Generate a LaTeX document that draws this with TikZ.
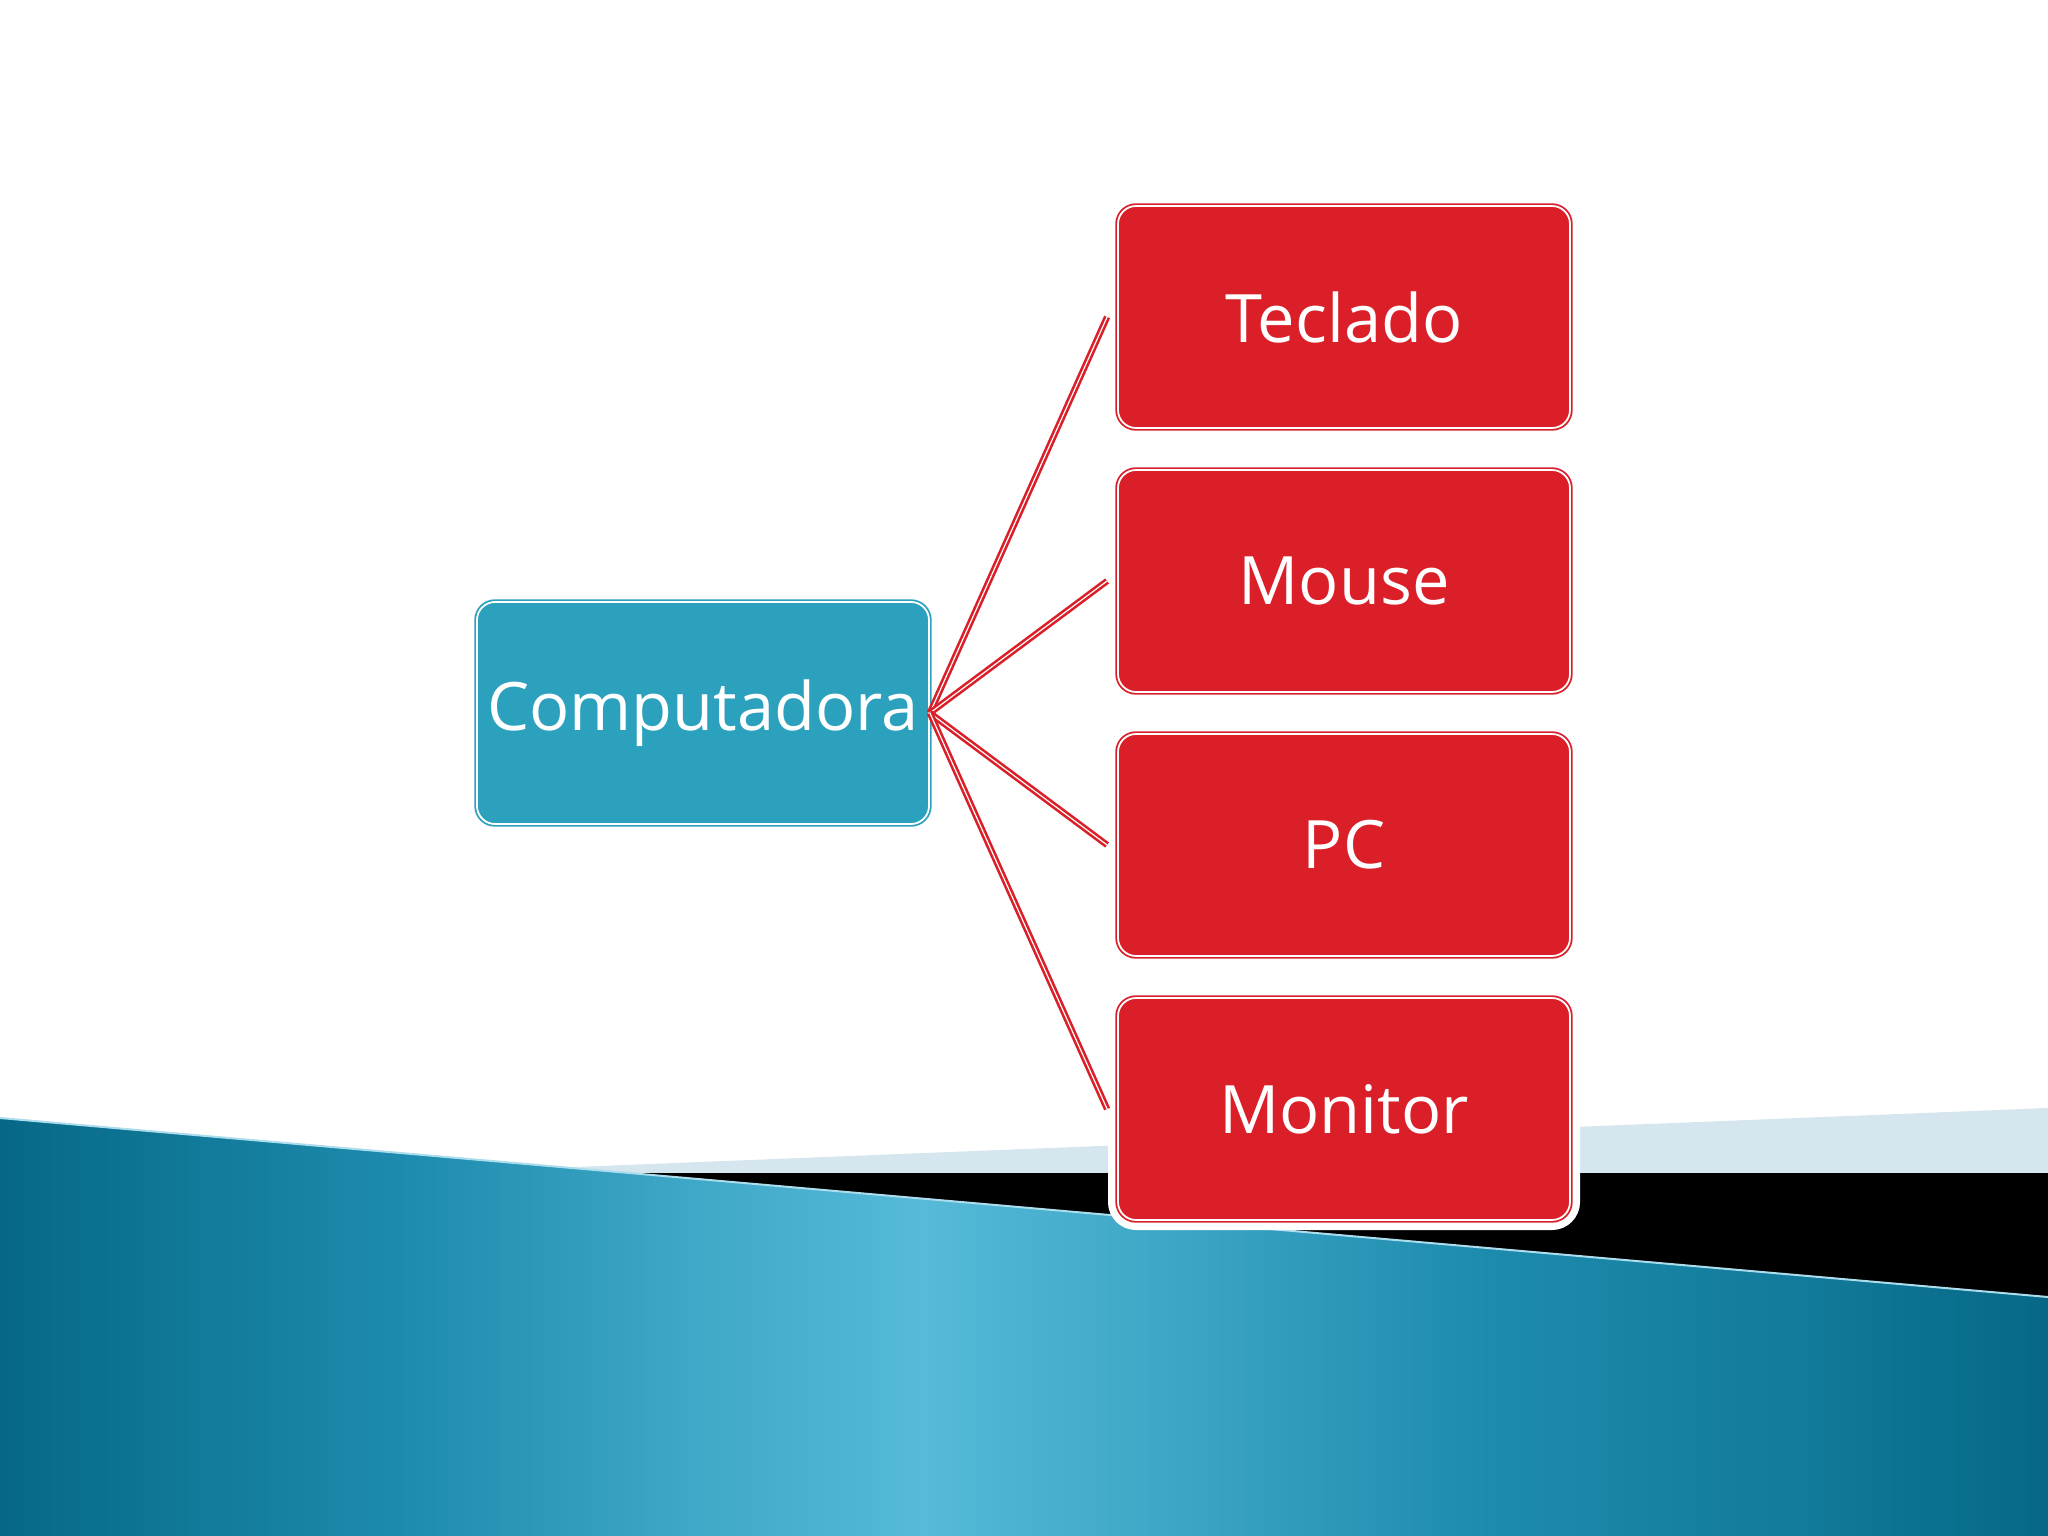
\documentclass[tikz,border=0pt]{standalone}
\usepackage{fontspec}
\setmainfont{Open Sans}
\usepackage{tikz}
\usepackage{xcolor}
\definecolor{boxred}{RGB}{218,31,40}
\definecolor{boxblue}{RGB}{44,161,190}
\definecolor{seadark}{RGB}{6,104,134}
\definecolor{seamid}{RGB}{30,140,175}
\definecolor{sealight}{RGB}{86,186,216}
\definecolor{bandgray}{RGB}{214,230,238}
\pgfdeclarehorizontalshading{sea}{100bp}{color(0bp)=(seadark); color(25bp)=(seadark); color(35bp)=(seamid);
  color(42bp)=(sealight!60!seamid); color(47.5bp)=(sealight); color(53bp)=(sealight!60!seamid);
  color(61bp)=(seamid); color(69bp)=(seamid!50!seadark); color(75bp)=(seadark); color(100bp)=(seadark)}
\tikzset{item/.style={rounded corners=0.18cm,minimum width=4.52cm,minimum height=2.22cm,inner sep=0pt,
   text=white,font=\fontsize{19}{23}\selectfont,line width=0.018cm,double distance=0.018cm,
   preaction={draw=white,line width=0.2cm}},
 part/.style={item,draw=boxred,double=white,fill=boxred},
 whole/.style={item,draw=boxblue,double=white,fill=boxblue},
 link/.style={draw=boxred,double=white,line width=0.026cm,double distance=0.012cm},
 }

\begin{document}
\begin{tikzpicture}
        \useasboundingbox (0,0) rectangle (20.48,-15.36);
        \fill[shading=sea] (0,-11.18) -- (20.48,-12.97) -- (20.48,-15.36) -- (0,-15.36) -- cycle;
        \fill[bandgray] (5.75,-11.67) -- (20.48,-11.08) -- (20.48,-11.73) -- (6.29,-11.73) -- cycle;
        \fill[black] (6.29,-11.73) -- (20.48,-11.73) -- (20.48,-12.97) -- cycle;
        \draw[sealight!50!white, line width=0.02cm] (0,-11.18) -- (20.48,-12.97);
        \node[whole] (comp) at (7.03, -7.13) {Computadora};
        \node[part] (teclado) at (13.44, -3.17) {Teclado};
        \node[part] (mouse) at (13.44, -5.81) {Mouse};
        \node[part] (pc) at (13.44, -8.45) {PC};
        \node[part] (monitor) at (13.44, -11.09) {Monitor};
        \draw[link] (comp.east) -- ([xshift=-0.1cm]teclado.west);
        \draw[link] (comp.east) -- ([xshift=-0.1cm]mouse.west);
        \draw[link] (comp.east) -- ([xshift=-0.1cm]pc.west);
        \draw[link] (comp.east) -- ([xshift=-0.1cm]monitor.west);
    \end{tikzpicture}
\end{document}
